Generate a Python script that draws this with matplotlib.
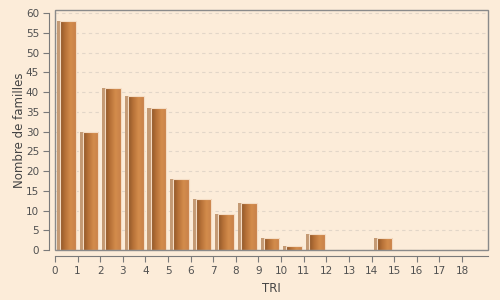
import numpy as np
import matplotlib.pyplot as plt
from matplotlib.patches import Rectangle

tri = np.arange(0, 19)
familles = [58, 30, 41, 39, 36, 18, 13, 9, 12, 3, 1, 4, 0, 0, 3, 0, 0, 0, 0]

bg = '#fcecd9'
fig = plt.figure(figsize=(5, 3), dpi=100, facecolor=bg)
ax = fig.add_axes([0.11, 0.1667, 0.866, 0.80])
ax.set_facecolor(bg)

# light back strip (3d shadow) then the gradient face
ax.bar(tri + 0.09, familles, width=0.5, align='edge', color='#c49a74',
       edgecolor='none', zorder=2)
bars = ax.bar(tri + 0.23, familles, width=0.69, align='edge', color='none',
              edgecolor='#f4dcc4', linewidth=0.8, zorder=4)

grad = np.linspace(0, 1, 64).reshape(1, -1)
cmap = plt.matplotlib.colors.LinearSegmentedColormap.from_list(
    'wood', ['#8e5629', '#b87238', '#d38c4c', '#c9824a'])
for b, v in zip(bars, familles):
    if v <= 0:
        continue
    x0, w, h = b.get_x(), b.get_width(), b.get_height()
    im = ax.imshow(grad, extent=(x0, x0 + w, 0, h), cmap=cmap, aspect='auto',
                   zorder=3, interpolation='bicubic')
    im.set_clip_path(b)

ax.set_xlim(0, 19.15)
ax.set_ylim(0, 60.8)

ax.set_yticks(range(0, 61, 5))
ax.set_xticks(tri)
ax.yaxis.grid(True, linestyle=(0, (3, 3)), color='#e2d6c8', linewidth=0.8)
ax.set_axisbelow(True)

for s in ['top', 'right']:
    ax.spines[s].set_visible(False)
ax.spines['left'].set_position(('outward', 4))
ax.spines['bottom'].set_position(('outward', 4))
ax.spines['left'].set_bounds(0, 60)
for s in ['left', 'bottom']:
    ax.spines[s].set_color('#7a7a7a')
ax.add_patch(Rectangle((0, 0), 1, 1, transform=ax.transAxes, fill=False,
                       edgecolor='#8a8a8a', linewidth=1, clip_on=False, zorder=5))

ax.tick_params(axis='both', colors='#7a7a7a', labelcolor='#505050',
               labelsize=7.5, length=4, width=0.8)
ax.set_xlabel('TRI', fontsize=8.5, color='#444444', labelpad=4)
ax.set_ylabel('Nombre de familles', fontsize=8.5, color='#444444', labelpad=0)

fig.savefig('out.png', dpi=100, facecolor=bg)
